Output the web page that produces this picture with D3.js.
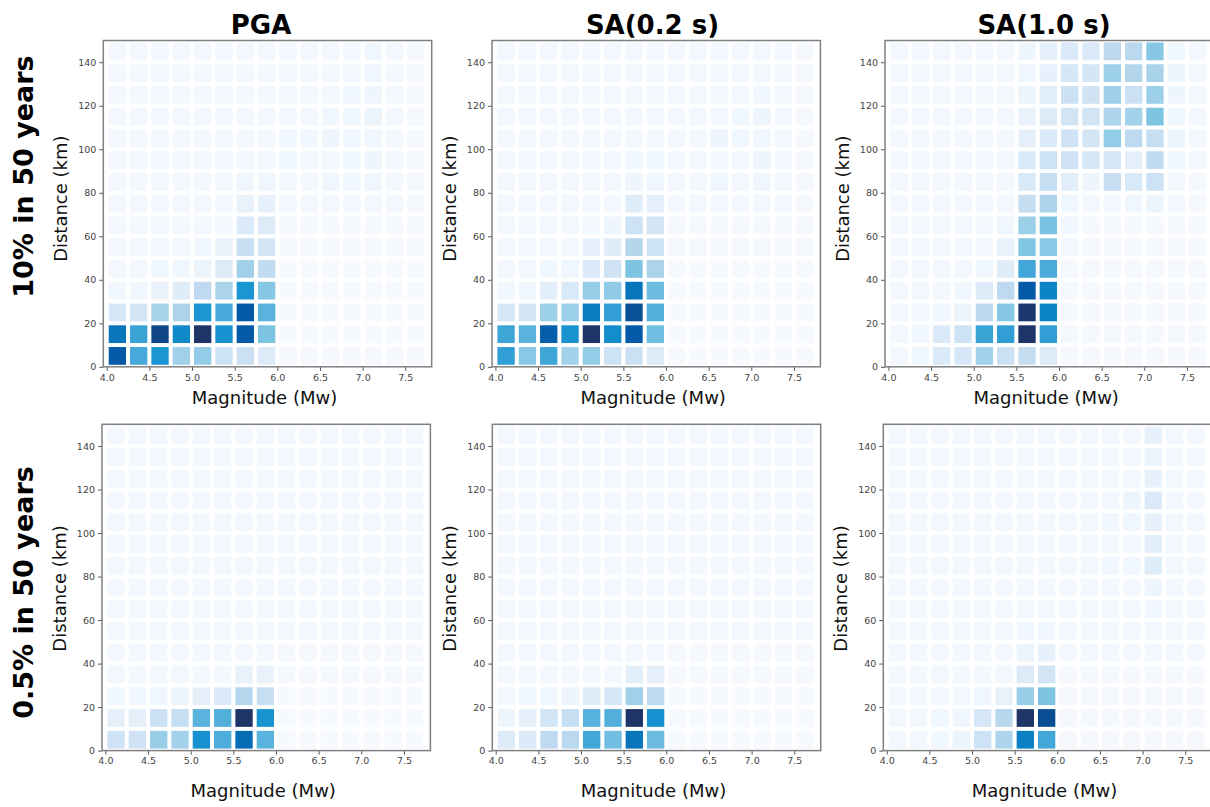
<!DOCTYPE html>
<html>
<head>
<meta charset="utf-8">
<script src="https://cdn.jsdelivr.net/npm/d3@7"></script>
<style>
  body { margin: 0; background: #ffffff; }
  svg { display: block; }
</style>
</head>
<body>
<svg id="chart" width="1210" height="807"></svg>
<script>
// Magnitude bins (lower edges, width 0.25) and distance bins (lower edges, width 10 km)
const magnitudeBins = [4.0, 4.25, 4.5, 4.75, 5.0, 5.25, 5.5, 5.75, 6.0, 6.25, 6.5, 6.75, 7.0, 7.25, 7.5];
const magnitudeStep = 0.25;
const distanceBins = [0, 10, 20, 30, 40, 50, 60, 70, 80, 90, 100, 110, 120, 130, 140];
const distanceStep = 10;

const magnitudeTicks = [4.0, 4.5, 5.0, 5.5, 6.0, 6.5, 7.0, 7.5];
const distanceTicks = [0, 20, 40, 60, 80, 100, 120, 140];

const intensityMeasures = ["PGA", "SA(0.2 s)", "SA(1.0 s)"];
const hazardLevels = ["10% in 50 years", "0.5% in 50 years"];

// Relative hazard contribution; one row per distance bin (0-10 km first), one column per magnitude bin
const pga10 = [
  [0.88,0.60,0.70,0.38,0.42,0.20,0.21,0.13,0.02,0.02,0.02,0.02,0.02,0.02,0.02],
  [0.80,0.63,0.95,0.74,1.00,0.72,0.88,0.47,0.01,0.01,0.01,0.01,0.01,0.01,0.01],
  [0.16,0.17,0.36,0.34,0.70,0.60,0.88,0.55,0.01,0.01,0.01,0.01,0.01,0.01,0.01],
  [0.04,0.05,0.08,0.12,0.26,0.34,0.70,0.45,0.01,0.01,0.01,0.01,0.01,0.01,0.01],
  [0.03,0.03,0.04,0.04,0.07,0.13,0.38,0.25,0.01,0.01,0.01,0.01,0.01,0.01,0.01],
  [0.03,0.03,0.03,0.03,0.05,0.08,0.22,0.17,0.02,0.02,0.02,0.02,0.02,0.02,0.02],
  [0.03,0.03,0.03,0.03,0.03,0.03,0.14,0.13,0.02,0.02,0.02,0.02,0.02,0.02,0.02],
  [0.03,0.03,0.03,0.03,0.03,0.03,0.08,0.09,0.03,0.03,0.03,0.03,0.03,0.03,0.02],
  [0.03,0.03,0.03,0.03,0.03,0.03,0.05,0.05,0.03,0.03,0.05,0.04,0.05,0.03,0.02],
  [0.03,0.03,0.03,0.03,0.03,0.03,0.03,0.03,0.04,0.03,0.03,0.04,0.06,0.03,0.02],
  [0.03,0.03,0.03,0.03,0.03,0.03,0.03,0.03,0.04,0.04,0.06,0.05,0.05,0.03,0.02],
  [0.03,0.03,0.03,0.03,0.03,0.03,0.03,0.03,0.03,0.03,0.04,0.05,0.07,0.03,0.02],
  [0.03,0.03,0.03,0.03,0.03,0.03,0.03,0.03,0.03,0.03,0.03,0.04,0.06,0.03,0.02],
  [0.03,0.03,0.03,0.03,0.03,0.03,0.03,0.03,0.03,0.03,0.03,0.03,0.04,0.03,0.02],
  [0.03,0.03,0.03,0.03,0.03,0.03,0.03,0.03,0.03,0.03,0.03,0.03,0.05,0.03,0.02]
];
const sa02_10 = [
  [0.65,0.44,0.62,0.37,0.42,0.20,0.21,0.13,0.01,0.01,0.01,0.01,0.01,0.01,0.01],
  [0.62,0.55,0.87,0.71,1.00,0.73,0.88,0.50,0.01,0.01,0.01,0.01,0.01,0.01,0.01],
  [0.16,0.17,0.40,0.40,0.78,0.65,0.92,0.57,0.01,0.01,0.01,0.01,0.01,0.01,0.01],
  [0.04,0.05,0.11,0.15,0.41,0.43,0.80,0.51,0.01,0.01,0.01,0.01,0.01,0.01,0.01],
  [0.03,0.03,0.04,0.05,0.14,0.19,0.47,0.34,0.01,0.01,0.01,0.01,0.01,0.01,0.01],
  [0.03,0.03,0.03,0.03,0.09,0.12,0.31,0.20,0.02,0.02,0.02,0.02,0.02,0.02,0.02],
  [0.03,0.03,0.03,0.03,0.03,0.06,0.20,0.18,0.02,0.02,0.02,0.02,0.02,0.02,0.02],
  [0.03,0.03,0.03,0.03,0.03,0.03,0.12,0.10,0.03,0.03,0.03,0.03,0.03,0.03,0.02],
  [0.03,0.03,0.03,0.03,0.03,0.03,0.06,0.05,0.03,0.03,0.05,0.03,0.05,0.03,0.02],
  [0.03,0.03,0.03,0.03,0.03,0.03,0.04,0.04,0.03,0.03,0.03,0.03,0.06,0.03,0.02],
  [0.03,0.03,0.03,0.03,0.03,0.03,0.03,0.03,0.03,0.03,0.06,0.04,0.04,0.03,0.02],
  [0.03,0.03,0.03,0.03,0.03,0.03,0.03,0.03,0.03,0.03,0.03,0.04,0.06,0.03,0.02],
  [0.03,0.03,0.03,0.03,0.03,0.03,0.03,0.03,0.03,0.03,0.03,0.03,0.04,0.03,0.02],
  [0.03,0.03,0.03,0.03,0.03,0.03,0.03,0.03,0.03,0.03,0.03,0.03,0.03,0.03,0.02],
  [0.03,0.03,0.03,0.03,0.03,0.03,0.03,0.03,0.03,0.03,0.03,0.03,0.03,0.03,0.02]
];
const sa10_10 = [
  [0.03,0.05,0.14,0.16,0.37,0.21,0.24,0.13,0.02,0.02,0.02,0.02,0.02,0.02,0.02],
  [0.03,0.04,0.14,0.20,0.63,0.65,1.00,0.65,0.02,0.02,0.02,0.02,0.02,0.02,0.02],
  [0.03,0.03,0.04,0.07,0.27,0.45,0.99,0.76,0.02,0.02,0.02,0.02,0.02,0.02,0.02],
  [0.03,0.03,0.03,0.04,0.13,0.26,0.88,0.76,0.02,0.02,0.02,0.02,0.02,0.02,0.02],
  [0.03,0.03,0.03,0.03,0.05,0.12,0.61,0.59,0.02,0.02,0.02,0.02,0.02,0.02,0.02],
  [0.03,0.03,0.03,0.03,0.03,0.08,0.46,0.44,0.03,0.02,0.02,0.02,0.02,0.02,0.02],
  [0.03,0.03,0.03,0.03,0.03,0.05,0.40,0.48,0.04,0.02,0.02,0.02,0.02,0.02,0.02],
  [0.03,0.03,0.03,0.03,0.03,0.03,0.24,0.34,0.04,0.03,0.03,0.05,0.07,0.03,0.02],
  [0.03,0.03,0.03,0.03,0.03,0.03,0.15,0.23,0.11,0.06,0.22,0.15,0.20,0.03,0.02],
  [0.03,0.03,0.03,0.03,0.03,0.03,0.15,0.20,0.19,0.16,0.16,0.10,0.25,0.05,0.03],
  [0.03,0.03,0.03,0.03,0.03,0.03,0.10,0.14,0.19,0.17,0.42,0.26,0.23,0.07,0.03],
  [0.03,0.03,0.03,0.03,0.03,0.03,0.08,0.13,0.18,0.18,0.33,0.37,0.47,0.05,0.03],
  [0.03,0.03,0.03,0.03,0.03,0.03,0.07,0.11,0.21,0.19,0.39,0.21,0.40,0.06,0.03],
  [0.03,0.03,0.03,0.03,0.03,0.03,0.04,0.09,0.16,0.17,0.40,0.31,0.35,0.07,0.03],
  [0.03,0.03,0.03,0.03,0.03,0.03,0.06,0.09,0.14,0.14,0.27,0.28,0.45,0.04,0.03]
];
const pga05 = [
  [0.19,0.19,0.41,0.37,0.72,0.58,0.83,0.55,0.01,0.01,0.01,0.01,0.01,0.01,0.01],
  [0.10,0.10,0.21,0.23,0.55,0.57,1.00,0.71,0.01,0.01,0.01,0.01,0.01,0.01,0.01],
  [0.04,0.04,0.05,0.06,0.10,0.14,0.30,0.22,0.01,0.01,0.01,0.01,0.01,0.01,0.01],
  [0.03,0.03,0.03,0.03,0.03,0.03,0.08,0.08,0.02,0.02,0.02,0.02,0.02,0.02,0.02],
  [0.03,0.03,0.03,0.03,0.03,0.03,0.03,0.03,0.02,0.02,0.02,0.02,0.02,0.02,0.02],
  [0.03,0.03,0.03,0.03,0.03,0.03,0.03,0.03,0.03,0.03,0.03,0.03,0.03,0.03,0.03],
  [0.03,0.03,0.03,0.03,0.03,0.03,0.03,0.03,0.03,0.03,0.03,0.03,0.03,0.03,0.03],
  [0.03,0.03,0.03,0.03,0.03,0.03,0.03,0.03,0.03,0.03,0.03,0.03,0.03,0.03,0.03],
  [0.03,0.03,0.03,0.03,0.03,0.03,0.03,0.03,0.03,0.03,0.03,0.03,0.03,0.03,0.03],
  [0.03,0.03,0.03,0.03,0.03,0.03,0.03,0.03,0.03,0.03,0.03,0.03,0.03,0.03,0.03],
  [0.03,0.03,0.03,0.03,0.03,0.03,0.03,0.03,0.03,0.03,0.03,0.03,0.03,0.03,0.03],
  [0.03,0.03,0.03,0.03,0.03,0.03,0.03,0.03,0.03,0.03,0.03,0.03,0.03,0.03,0.03],
  [0.03,0.03,0.03,0.03,0.03,0.03,0.03,0.03,0.03,0.03,0.03,0.03,0.03,0.03,0.03],
  [0.03,0.03,0.03,0.03,0.03,0.03,0.03,0.03,0.03,0.03,0.03,0.03,0.03,0.03,0.03],
  [0.03,0.03,0.03,0.03,0.03,0.03,0.03,0.03,0.03,0.03,0.03,0.03,0.03,0.03,0.03]
];
const sa02_05 = [
  [0.13,0.14,0.26,0.28,0.61,0.50,0.80,0.51,0.01,0.01,0.01,0.01,0.01,0.01,0.01],
  [0.07,0.10,0.18,0.23,0.56,0.57,1.00,0.72,0.01,0.01,0.01,0.01,0.01,0.01,0.01],
  [0.03,0.04,0.05,0.06,0.13,0.16,0.38,0.26,0.01,0.01,0.01,0.01,0.01,0.01,0.01],
  [0.03,0.03,0.03,0.03,0.03,0.03,0.11,0.10,0.02,0.02,0.02,0.02,0.02,0.02,0.02],
  [0.03,0.03,0.03,0.03,0.03,0.03,0.03,0.03,0.02,0.02,0.02,0.02,0.02,0.02,0.02],
  [0.03,0.03,0.03,0.03,0.03,0.03,0.03,0.03,0.03,0.03,0.03,0.03,0.03,0.03,0.03],
  [0.03,0.03,0.03,0.03,0.03,0.03,0.03,0.03,0.03,0.03,0.03,0.03,0.03,0.03,0.03],
  [0.03,0.03,0.03,0.03,0.03,0.03,0.03,0.03,0.03,0.03,0.03,0.03,0.03,0.03,0.03],
  [0.03,0.03,0.03,0.03,0.03,0.03,0.03,0.03,0.03,0.03,0.03,0.03,0.03,0.03,0.03],
  [0.03,0.03,0.03,0.03,0.03,0.03,0.03,0.03,0.03,0.03,0.03,0.03,0.03,0.03,0.03],
  [0.03,0.03,0.03,0.03,0.03,0.03,0.03,0.03,0.03,0.03,0.03,0.03,0.03,0.03,0.03],
  [0.03,0.03,0.03,0.03,0.03,0.03,0.03,0.03,0.03,0.03,0.03,0.03,0.03,0.03,0.03],
  [0.03,0.03,0.03,0.03,0.03,0.03,0.03,0.03,0.03,0.03,0.03,0.03,0.03,0.03,0.03],
  [0.03,0.03,0.03,0.03,0.03,0.03,0.03,0.03,0.03,0.03,0.03,0.03,0.03,0.03,0.03],
  [0.03,0.03,0.03,0.03,0.03,0.03,0.03,0.03,0.03,0.03,0.03,0.03,0.03,0.03,0.03]
];
const sa10_05 = [
  [0.03,0.03,0.04,0.07,0.20,0.33,0.77,0.61,0.02,0.02,0.02,0.02,0.02,0.02,0.02],
  [0.03,0.03,0.04,0.05,0.16,0.29,1.00,0.93,0.02,0.02,0.02,0.02,0.02,0.02,0.02],
  [0.03,0.03,0.03,0.03,0.05,0.08,0.41,0.47,0.02,0.02,0.02,0.02,0.02,0.02,0.02],
  [0.03,0.03,0.03,0.03,0.03,0.03,0.13,0.18,0.02,0.02,0.02,0.02,0.02,0.02,0.02],
  [0.03,0.03,0.03,0.03,0.03,0.03,0.07,0.09,0.03,0.03,0.03,0.03,0.03,0.03,0.03],
  [0.03,0.03,0.03,0.03,0.03,0.03,0.04,0.04,0.03,0.03,0.03,0.03,0.03,0.03,0.03],
  [0.03,0.03,0.03,0.03,0.03,0.03,0.03,0.03,0.03,0.03,0.03,0.03,0.04,0.03,0.03],
  [0.03,0.03,0.03,0.03,0.03,0.03,0.03,0.03,0.03,0.03,0.03,0.03,0.06,0.03,0.03],
  [0.03,0.03,0.03,0.03,0.03,0.03,0.03,0.03,0.03,0.03,0.04,0.04,0.12,0.03,0.03],
  [0.03,0.03,0.03,0.03,0.03,0.03,0.03,0.03,0.03,0.03,0.03,0.03,0.11,0.03,0.03],
  [0.03,0.03,0.03,0.03,0.03,0.03,0.03,0.03,0.03,0.03,0.04,0.05,0.09,0.03,0.03],
  [0.03,0.03,0.03,0.03,0.03,0.03,0.03,0.03,0.03,0.03,0.03,0.06,0.14,0.03,0.03],
  [0.03,0.03,0.03,0.03,0.03,0.03,0.03,0.03,0.03,0.03,0.03,0.03,0.09,0.03,0.03],
  [0.03,0.03,0.03,0.03,0.03,0.03,0.03,0.03,0.03,0.03,0.03,0.03,0.07,0.03,0.03],
  [0.03,0.03,0.03,0.03,0.03,0.03,0.03,0.03,0.03,0.03,0.03,0.03,0.09,0.03,0.03]
];

// Blue colour ramp for the contribution values
const rampStops = [0, 0.03, 0.07, 0.10, 0.14, 0.20, 0.26, 0.33, 0.40, 0.47, 0.55, 0.62, 0.70, 0.76, 0.83, 0.88, 0.93, 1.0];
const rampColours = ["#f8fbff", "#f3f8fe", "#ecf4fc", "#e4effa", "#daeaf8", "#cde2f4", "#bfdaf0", "#aed5ec",
  "#9ccfe8", "#7dc4e3", "#5ab3dd", "#3ea5d7", "#1b96d2", "#0c84c6", "#066cb4", "#055aa8", "#0a4d93", "#1f3568"];
const colour = d3.scaleLinear().domain(rampStops).range(rampColours).interpolate(d3.interpolateRgb).clamp(true);

// Grid of panels: [row][column]
const panelData = [[pga10, sa02_10, sa10_10], [pga05, sa02_05, sa10_05]];
const panelLeft = [[103.3, 492.0, 885.0], [102.0, 492.3, 883.3]];
const rowTop = [40.5, 424.3];
const plotW = 328.4, plotH = 326.3;

const svg = d3.select("#chart");
const font = "'DejaVu Sans', Verdana, sans-serif";

panelData.forEach((row, r) => {
  row.forEach((grid, c) => {
    const left = panelLeft[r][c], top = rowTop[r];
    const x = d3.scaleLinear().domain([3.96, 7.81]).range([left, left + plotW]);
    const y = d3.scaleLinear().domain([0, 150]).range([top + plotH, top]);
    const g = svg.append("g");

    const cells = [];
    grid.forEach((vals, i) => vals.forEach((v, j) => cells.push({ m: magnitudeBins[j], d: distanceBins[i], v })));

    g.selectAll("rect.cell").data(cells).join("rect")
      .attr("class", "cell")
      .attr("x", d => x(d.m) + 2)
      .attr("y", d => y(d.d + distanceStep) + 2)
      .attr("width", d => x(d.m + magnitudeStep) - x(d.m) - 4)
      .attr("height", d => y(d.d) - y(d.d + distanceStep) - 4)
      .attr("fill", d => colour(d.v));

    // axes
    const xAxis = g.append("g").attr("transform", `translate(0,${top + plotH})`)
      .call(d3.axisBottom(x).tickValues(magnitudeTicks).tickFormat(d3.format(".1f")).tickSize(4).tickPadding(3));
    const yAxis = g.append("g").attr("transform", `translate(${left},0)`)
      .call(d3.axisLeft(y).tickValues(distanceTicks).tickSize(4).tickPadding(3));
    [xAxis, yAxis].forEach(a => {
      a.select(".domain").remove();
      a.selectAll(".tick line").attr("stroke", "#555").attr("stroke-width", 1);
      a.selectAll(".tick text").attr("fill", "#444").style("font-family", font).style("font-size", "9.5px");
    });

    // frame
    g.append("rect")
      .attr("x", left).attr("y", top).attr("width", plotW).attr("height", plotH)
      .attr("fill", "none").attr("stroke", "#808080").attr("stroke-width", 1.5);

    // axis titles
    g.append("text")
      .attr("x", left + plotW / 2 - 3)
      .attr("y", top + plotH + (r === 0 ? 37.5 : 46))
      .attr("text-anchor", "middle")
      .style("font-family", font).style("font-size", "18px").attr("fill", "#111")
      .text("Magnitude (Mw)");
    g.append("text")
      .attr("transform", `translate(${left - 36},${top + plotH / 2 - (r === 0 ? 5 : -1)}) rotate(-90)`)
      .attr("text-anchor", "middle")
      .style("font-family", font).style("font-size", "18px").attr("fill", "#111")
      .text("Distance (km)");
  });
});

// column headings
const headingX = [261, 652.5, 1044];
intensityMeasures.forEach((t, i) => {
  svg.append("text")
    .attr("x", headingX[i]).attr("y", 33.5)
    .attr("text-anchor", "middle")
    .style("font-family", font).style("font-size", "26px").style("font-weight", "bold").attr("fill", "#000")
    .text(t);
});

// row headings
const headingY = [176.5, 592.5];
hazardLevels.forEach((t, i) => {
  svg.append("text")
    .attr("transform", `translate(33,${headingY[i]}) rotate(-90)`)
    .attr("text-anchor", "middle")
    .style("font-family", font).style("font-size", "27px").style("font-weight", "bold").attr("fill", "#000")
    .text(t);
});
</script>
</body>
</html>
